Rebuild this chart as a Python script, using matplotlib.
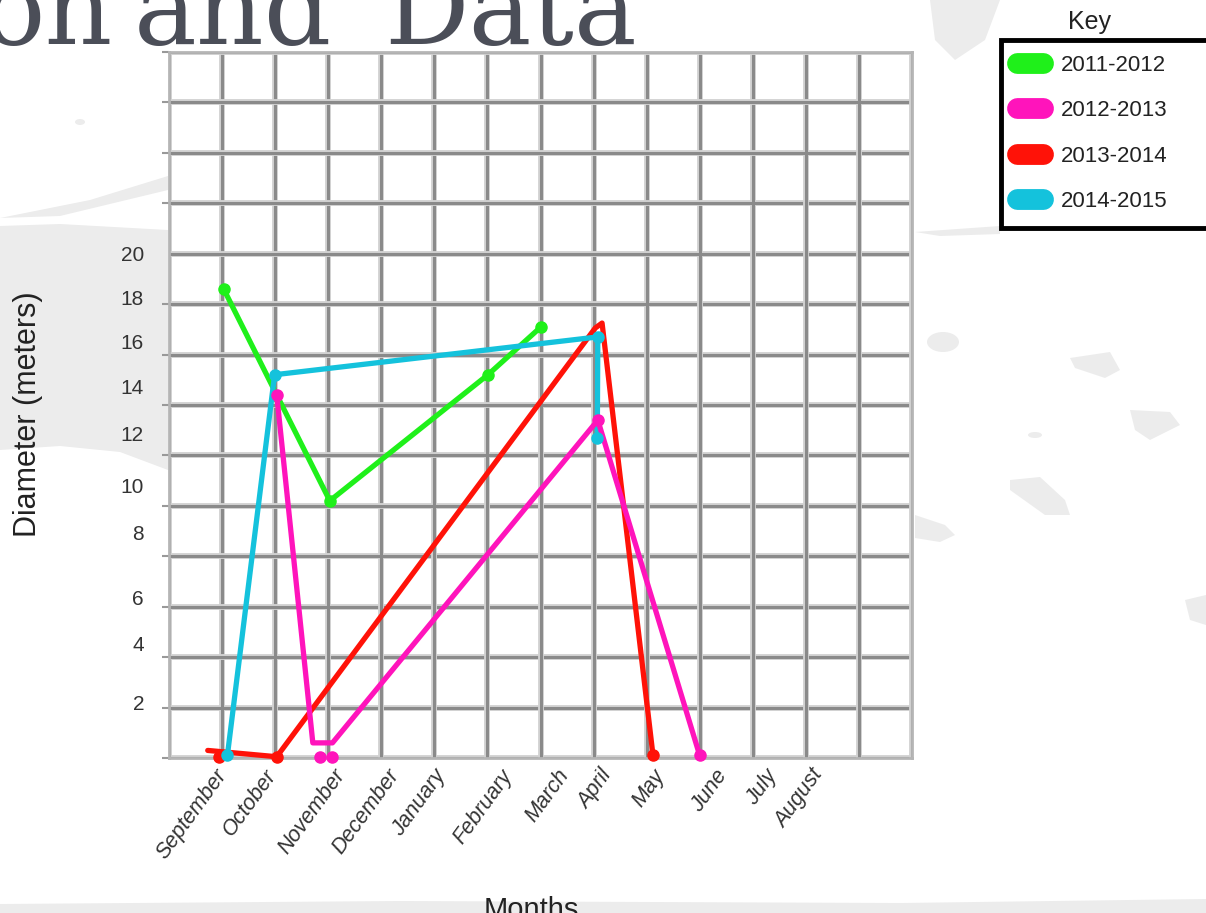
import matplotlib.pyplot as plt
from matplotlib.lines import Line2D
from matplotlib.patches import Polygon, Ellipse, Rectangle

W, H = 1206, 913

# months along the bottom, Sept .. Aug (grid column index)
months = ['September', 'October', 'November', 'December', 'January', 'February',
          'March', 'April', 'May', 'June', 'July', 'August']
month_pos = [1.01, 1.95, 3.25, 4.27, 5.14, 6.39, 7.46, 8.27, 9.27, 10.44, 11.39, 12.25]

# diameter labels, hand placed along the left side
diam_labels = [20, 18, 16, 14, 12, 10, 8, 6, 4, 2]
diam_pos = [20.0, 18.25, 16.5, 14.75, 12.85, 10.8, 8.95, 6.35, 4.55, 2.2]

seasons = ['2011-2012', '2012-2013', '2013-2014', '2014-2015']
colors = ['#1ff01a', '#ff14bb', '#ff1208', '#14c2dc']

# traced lines (x = month column, y = diameter in meters)
line_x = [
    [1.03, 3.03, 6.01, 7.01],
    [2.03, 2.71, 3.08, 8.08, 10.0],
    [0.73, 2.03, 8.03, 8.16, 9.12],
    [1.10, 1.99, 8.08, 8.07],
]
line_y = [
    [18.6, 10.2, 15.2, 17.1],
    [14.4, 0.6, 0.6, 13.4, 0.1],
    [0.3, 0.05, 17.05, 17.25, 0.1],
    [0.1, 15.2, 16.7, 12.7],
]
# dots marked on each season
dot_x = [
    [1.03, 3.03, 6.01, 7.01],
    [2.03, 8.08, 10.0, 2.84, 3.07],
    [0.95, 2.03, 9.12],
    [1.10, 1.99, 8.08, 8.07],
]
dot_y = [
    [18.6, 10.2, 15.2, 17.1],
    [14.4, 13.4, 0.1, 0.05, 0.05],
    [0.05, 0.05, 0.1],
    [0.1, 15.2, 16.7, 12.7],
]
draw_order = [0, 2, 3, 1]


def px(x, y):
    # pixel position (from top-left) -> figure fraction
    return x / W, 1 - y / H


fig = plt.figure(figsize=(W / 100, H / 100), dpi=100)
fig.patch.set_facecolor('white')

# light grey brush strokes of the slide background
bg = '#ececec'
shapes = [
    [(0, 226), (60, 224), (168, 230), (168, 470), (120, 452), (60, 446), (0, 450)],
    [(0, 218), (90, 200), (168, 176), (168, 190), (60, 216)],
    [(930, 0), (1000, 0), (985, 40), (955, 60), (935, 40)],
    [(915, 232), (1000, 226), (1000, 234), (940, 236)],
    [(1070, 358), (1110, 352), (1120, 370), (1105, 378), (1075, 368)],
    [(1130, 410), (1170, 412), (1180, 425), (1150, 440), (1135, 430)],
    [(1010, 480), (1040, 477), (1065, 500), (1070, 515), (1045, 515), (1010, 490)],
    [(915, 515), (945, 525), (955, 535), (940, 542), (915, 538)],
    [(1185, 600), (1206, 595), (1206, 625), (1190, 620)],
    [(0, 904), (400, 901), (900, 903), (1206, 899), (1206, 913), (0, 913)],
]
for pts in shapes:
    fig.patches.append(Polygon([px(*p) for p in pts], closed=True, facecolor=bg,
                               edgecolor='none', transform=fig.transFigure, zorder=-2))
for cx, cy, w, h in [(943, 342, 32, 20), (1035, 435, 14, 6), (80, 122, 10, 6)]:
    fig.patches.append(Ellipse(px(cx, cy), w / W, h / H, facecolor=bg, edgecolor='none',
                               transform=fig.transFigure, zorder=-2))

# slide title, cut off along the top edge
title_kw = dict(fontsize=76, family='DejaVu Serif', color='#4b4e58', va='baseline')
fig.text(*px(-18, 44), 'on', **title_kw)
fig.text(*px(134, 44), 'and', **title_kw)
fig.text(*px(384, 44), 'Data', **title_kw)

ax = fig.add_axes([169 / W, 1 - 758 / H, 743 / W, 706 / H])
ax.set_facecolor('white')
ax.set_xlim(0, 14)
ax.set_ylim(0, 28)

# soft grey grid every column / every 2 m
for k in range(15):
    for lw, c in [(4.2, '#d2d2d2'), (2.2, '#8a8a8a')]:
        ax.axvline(k, color=c, lw=lw, zorder=1)
        ax.axhline(2 * k, color=c, lw=lw, zorder=1)

for i in draw_order:
    ax.plot(line_x[i], line_y[i], color=colors[i], lw=3.8, solid_joinstyle='round',
            solid_capstyle='round', zorder=3, clip_on=False)
    ax.plot(dot_x[i], dot_y[i], 'o', color=colors[i], ms=8, zorder=4, clip_on=False)

for s in ax.spines.values():
    s.set_color('#b5b5b5')
    s.set_linewidth(2)

ax.set_yticks(diam_pos, [str(v) for v in diam_labels])
ax.set_yticks(range(0, 29, 2), minor=True)
ax.set_xticks(month_pos, months)
ax.set_xticks([], minor=True)
ax.tick_params(axis='y', which='major', length=0, pad=18, labelsize=15, labelcolor='#333333')
ax.tick_params(axis='y', which='minor', length=5, width=1.5, color='#999999', direction='out')
ax.tick_params(axis='x', which='major', length=0, pad=10, labelsize=15.5, labelcolor='#333333')
plt.setp(ax.get_xticklabels(), rotation=54, ha='right', va='center',
         rotation_mode='anchor', style='italic')
for lab in ax.get_xticklabels() + ax.get_yticklabels():
    lab.set_family('Liberation Sans')

ax.set_ylabel('Diameter (meters)', fontsize=22, family='Liberation Sans', color='#222222')
ax.yaxis.set_label_coords((43 - 169) / 743, (758 - 414) / 706)
ax.set_xlabel('Months', fontsize=21, family='Liberation Sans', color='#222222')
ax.xaxis.set_label_coords((531 - 169) / 743, (758 - 896) / 706)

# key box at the upper right, running off the edge
fig.patches.append(Rectangle(px(1001, 228), 230 / W, 188 / H, transform=fig.transFigure,
                             facecolor='white', edgecolor='black', lw=3.5, zorder=2))
handles = [Line2D([0], [0], color=c, lw=15, solid_capstyle='round') for c in colors]
leg = fig.legend(handles, seasons, loc='upper left', bbox_to_anchor=px(1010, 48),
                 bbox_transform=fig.transFigure, frameon=False,
                 borderaxespad=0, borderpad=0.3, handlelength=1.2, handletextpad=0.8,
                 labelspacing=1.1, prop={'family': 'Liberation Sans', 'size': 16})
leg.set_zorder(3)
for t in leg.get_texts():
    t.set_color('#222222')
fig.text(*px(1090, 22), 'Key', fontsize=18, family='Liberation Sans', color='#222222',
         ha='center', va='center')

fig.savefig('out.png', dpi=100)
